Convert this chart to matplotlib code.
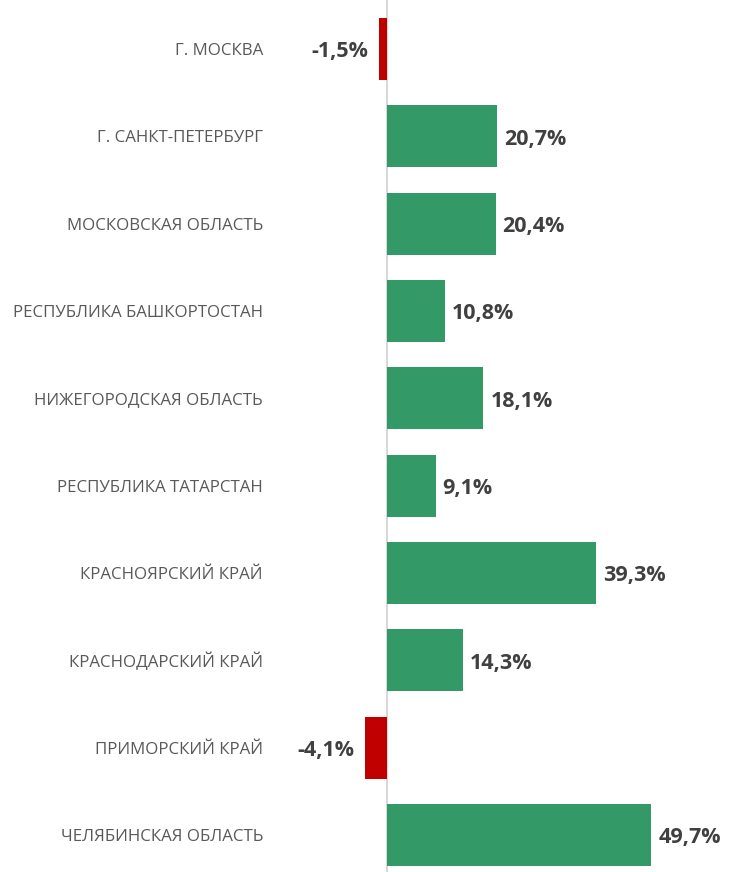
import matplotlib.pyplot as plt

regions = [
    "Г. МОСКВА",
    "Г. САНКТ-ПЕТЕРБУРГ",
    "МОСКОВСКАЯ ОБЛАСТЬ",
    "РЕСПУБЛИКА БАШКОРТОСТАН",
    "НИЖЕГОРОДСКАЯ ОБЛАСТЬ",
    "РЕСПУБЛИКА ТАТАРСТАН",
    "КРАСНОЯРСКИЙ КРАЙ",
    "КРАСНОДАРСКИЙ КРАЙ",
    "ПРИМОРСКИЙ КРАЙ",
    "ЧЕЛЯБИНСКАЯ ОБЛАСТЬ",
]
growth = [-1.5, 20.7, 20.4, 10.8, 18.1, 9.1, 39.3, 14.3, -4.1, 49.7]

GREEN = "#339966"
RED = "#C00000"

plt.rcParams["font.family"] = ["Open Sans", "DejaVu Sans"]

fig = plt.figure(figsize=(7.3, 8.72), dpi=100)
ax = fig.add_axes([281 / 730, 0, 425 / 730, 1])

pos = list(range(len(regions)))
colors = [GREEN if v >= 0 else RED for v in growth]
ax.barh(pos, growth, height=0.71, color=colors)

ax.set_xlim(-20, 60)
ax.set_ylim(9.424, -0.561)
ax.axvline(0, color="#d9d9d9", linewidth=1.5, zorder=0)

ax.set_yticks(pos)
ax.set_yticklabels(regions, fontsize=12.2, color="#595959")
ax.tick_params(axis="y", length=0, pad=13)
ax.set_xticks([])
for s in ax.spines.values():
    s.set_visible(False)

for p, v in zip(pos, growth):
    txt = f"{v:.1f}%".replace(".", ",")
    if v >= 0:
        ax.annotate(txt, (v, p), xytext=(5, -2), textcoords="offset points",
                    ha="left", va="center", fontsize=15.5, fontweight="bold",
                    color="#404040")
    else:
        ax.annotate(txt, (v, p), xytext=(-8, -2), textcoords="offset points",
                    ha="right", va="center", fontsize=15.5, fontweight="bold",
                    color="#404040")

fig.savefig("out.png", dpi=100)
